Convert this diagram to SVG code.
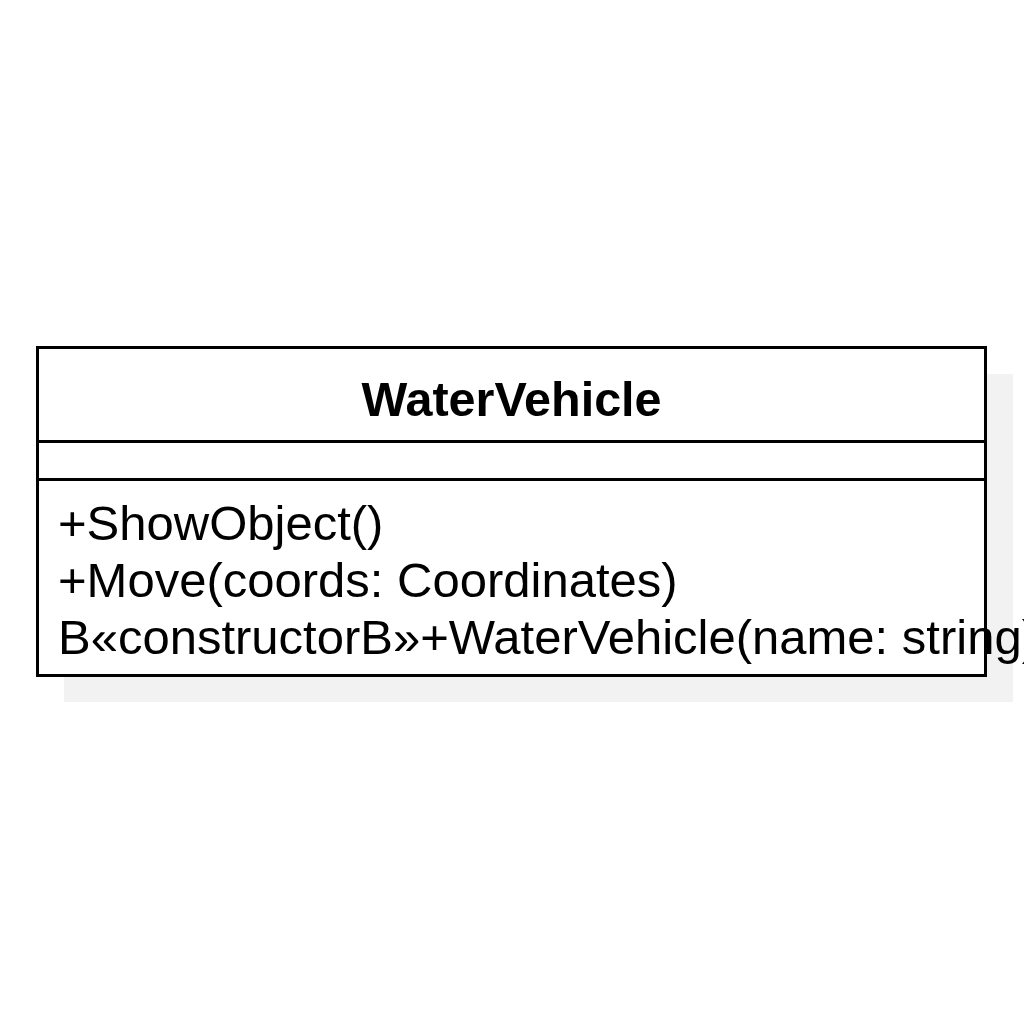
<svg xmlns="http://www.w3.org/2000/svg" width="1024" height="1024" viewBox="0 0 1024 1024">
<style>
.box{fill:#fff;stroke:#000;stroke-width:3}
.line{stroke:#000;stroke-width:3}
.title{font-family:"Liberation Sans",Arial,sans-serif;font-weight:bold;font-size:48.5px;fill:#000}
.member{font-family:"Liberation Sans",Arial,sans-serif;font-size:49px;fill:#000}
</style>
<rect width="1024" height="1024" fill="#fff"/>
<g id="WaterVehicle">
<rect x="64" y="374" width="949" height="328" fill="#f2f2f2"/>
<rect class="box" x="37.5" y="347.5" width="948" height="328"/>
<line class="line" x1="37.5" y1="441.5" x2="985.5" y2="441.5"/>
<line class="line" x1="37.5" y1="479.5" x2="985.5" y2="479.5"/>
<text class="title" x="511.5" y="416" text-anchor="middle">WaterVehicle</text>
<text class="member" x="58" y="540">+ShowObject()</text>
<text class="member" x="58" y="597">+Move(coords: Coordinates)</text>
<text class="member" x="58" y="654">B«constructorB»+WaterVehicle(name: string)</text>
</g>
<g id="connectors"/>
</svg>
